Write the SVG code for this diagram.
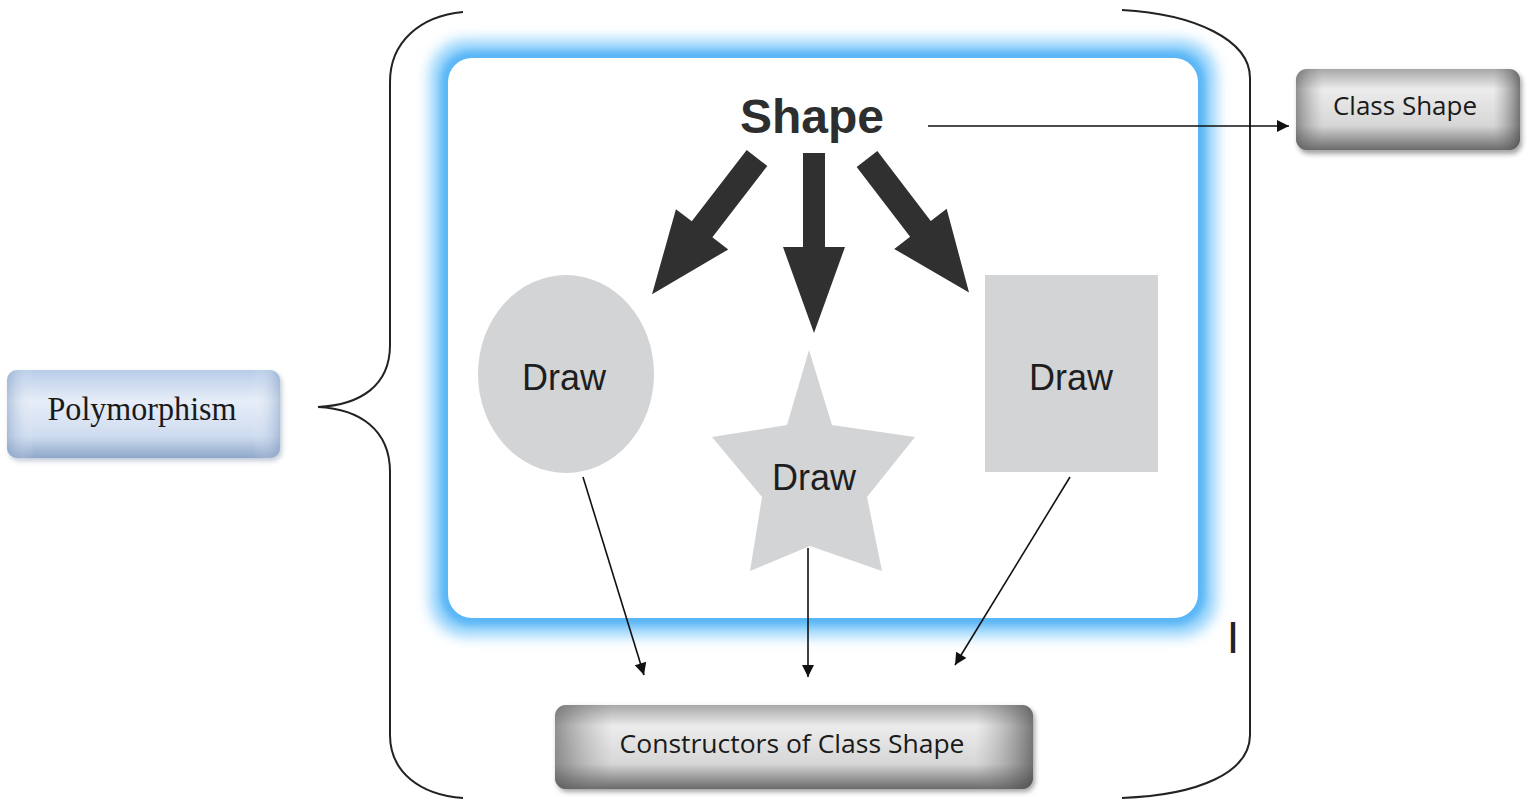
<svg xmlns="http://www.w3.org/2000/svg" width="1527" height="808" viewBox="0 0 1527 808">
<defs>
<style>
.thin{stroke:#111;stroke-width:1.6;fill:none}
.brace{stroke:#222;stroke-width:2;fill:none}
.big{fill:#303030}
.draw{font-family:"Liberation Sans",Arial,sans-serif;font-size:36px;fill:#1e1e1e;text-anchor:middle}
.gray{fill:#d3d4d6}
.lbl{font-family:"Open Sans","Noto Sans",sans-serif;fill:#1a1a1a;text-anchor:middle}
</style>
<marker id="ah" viewBox="0 0 10 10" refX="10" refY="5" markerWidth="13" markerHeight="12" markerUnits="userSpaceOnUse" orient="auto">
<path d="M0,0 L10,5 L0,10 Z" fill="#111"/>
</marker>
<filter id="glow" x="-10%" y="-10%" width="120%" height="120%"><feGaussianBlur stdDeviation="7"/></filter>
<filter id="glow2" x="-10%" y="-10%" width="120%" height="120%"><feGaussianBlur stdDeviation="3"/></filter>
<filter id="shadow" x="-10%" y="-20%" width="130%" height="150%"><feGaussianBlur stdDeviation="2.5"/></filter>
<linearGradient id="gv" x1="0" y1="0" x2="0" y2="1">
<stop offset="0" stop-color="#a8a8a8"/>
<stop offset="0.25" stop-color="#ececec"/>
<stop offset="0.7" stop-color="#d6d6d6"/>
<stop offset="1" stop-color="#6a6a6a"/>
</linearGradient>
<linearGradient id="gh" x1="0" y1="0" x2="1" y2="0">
<stop offset="0" stop-color="#555" stop-opacity="0.6"/>
<stop offset="0.12" stop-color="#888" stop-opacity="0"/>
<stop offset="0.88" stop-color="#888" stop-opacity="0"/>
<stop offset="1" stop-color="#444" stop-opacity="0.7"/>
</linearGradient>
<linearGradient id="bv" x1="0" y1="0" x2="0" y2="1">
<stop offset="0" stop-color="#b9cde8"/>
<stop offset="0.35" stop-color="#e6edf8"/>
<stop offset="0.75" stop-color="#cfdcef"/>
<stop offset="1" stop-color="#8ea7c9"/>
</linearGradient>
<linearGradient id="bh" x1="0" y1="0" x2="1" y2="0">
<stop offset="0" stop-color="#7f9cc4" stop-opacity="0.5"/>
<stop offset="0.1" stop-color="#fff" stop-opacity="0"/>
<stop offset="0.9" stop-color="#fff" stop-opacity="0"/>
<stop offset="1" stop-color="#7f9cc4" stop-opacity="0.5"/>
</linearGradient>
</defs>
<rect width="1527" height="808" fill="#ffffff"/>

<g id="frame">
<rect x="430" y="40" width="786" height="596" rx="36" fill="#8fd0fb" filter="url(#glow)"/>
<rect x="441" y="51" width="764" height="574" rx="30" fill="#5ab6f6" filter="url(#glow2)"/>
<rect x="448" y="58" width="750" height="560" rx="24" fill="#ffffff"/>
</g>

<g id="braces">
<path class="brace" d="M463,12 C420,16 390,42 390,82 L390,345 C390,386 360,405 318,407 C360,409 390,430 390,472 L390,735 C390,772 420,795 463,798"/>
<path class="brace" d="M1122,10 C1195,14 1250,40 1250,78 L1250,735 C1250,772 1200,795 1122,798"/>
<text x="1233" y="653" font-family="'Liberation Sans',Arial,sans-serif" font-size="45" fill="#222" text-anchor="middle">I</text>
</g>

<g id="shape-title">
<text x="812" y="133" font-family="'Liberation Sans',Arial,sans-serif" font-size="48" font-weight="bold" fill="#2e2e2e" text-anchor="middle">Shape</text>
</g>

<g id="big-arrows">
<polygon class="big" points="-13,0 13,0 13,90 33,90 0,172 -33,90 -13,90" transform="translate(757,158) rotate(37.6)"/>
<polygon class="big" points="-11,0 11,0 11,94 31,94 0,180 -31,94 -11,94" transform="translate(814,153)"/>
<polygon class="big" points="-13,0 13,0 13,88 33,88 0,168 -33,88 -13,88" transform="translate(867,159) rotate(-37.4)"/>
</g>

<g id="circle-draw">
<ellipse class="gray" cx="566" cy="374" rx="88" ry="99"/>
<text class="draw" x="564" y="390">Draw</text>
</g>

<g id="star-draw">
<polygon class="gray" points="809,350 832,425 915,437 867,497 882,571 810,546 750,571 762,497 712,437 787,425"/>
<text class="draw" x="814" y="490">Draw</text>
</g>

<g id="square-draw">
<rect class="gray" x="985" y="275" width="173" height="197"/>
<text class="draw" x="1071" y="390">Draw</text>
</g>

<g id="class-shape">
<rect x="1298" y="72" width="224" height="82" rx="11" fill="#666" opacity="0.6" filter="url(#shadow)"/>
<rect x="1296" y="69" width="224" height="81" rx="11" fill="url(#gv)"/>
<rect x="1296" y="69" width="224" height="81" rx="11" fill="url(#gh)"/>
<text class="lbl" x="1405" y="115" font-size="25" textLength="144" lengthAdjust="spacingAndGlyphs">Class Shape</text>
</g>

<g id="constructors">
<rect x="557" y="708" width="478" height="84" rx="11" fill="#666" opacity="0.6" filter="url(#shadow)"/>
<rect x="555" y="705" width="478" height="84" rx="11" fill="url(#gv)"/>
<rect x="555" y="705" width="478" height="84" rx="11" fill="url(#gh)"/>
<text class="lbl" x="792" y="753" font-size="25" textLength="345" lengthAdjust="spacingAndGlyphs">Constructors of Class Shape</text>
</g>

<g id="polymorphism">
<rect x="9" y="373" width="273" height="88" rx="10" fill="#8899b0" opacity="0.5" filter="url(#shadow)"/>
<rect x="7" y="370" width="273" height="88" rx="10" fill="url(#bv)"/>
<rect x="7" y="370" width="273" height="88" rx="10" fill="url(#bh)"/>
<text x="142" y="420" font-family="'Liberation Serif','Times New Roman',serif" font-size="33" fill="#1a1a1a" text-anchor="middle" textLength="189" lengthAdjust="spacingAndGlyphs">Polymorphism</text>
</g>

<g id="connectors">
<line class="thin" x1="928" y1="126" x2="1289" y2="126" marker-end="url(#ah)"/>
<line class="thin" x1="583" y1="477" x2="644" y2="675" marker-end="url(#ah)"/>
<line class="thin" x1="808" y1="548" x2="808" y2="677" marker-end="url(#ah)"/>
<line class="thin" x1="1070" y1="477" x2="955" y2="665" marker-end="url(#ah)"/>
</g>
</svg>
